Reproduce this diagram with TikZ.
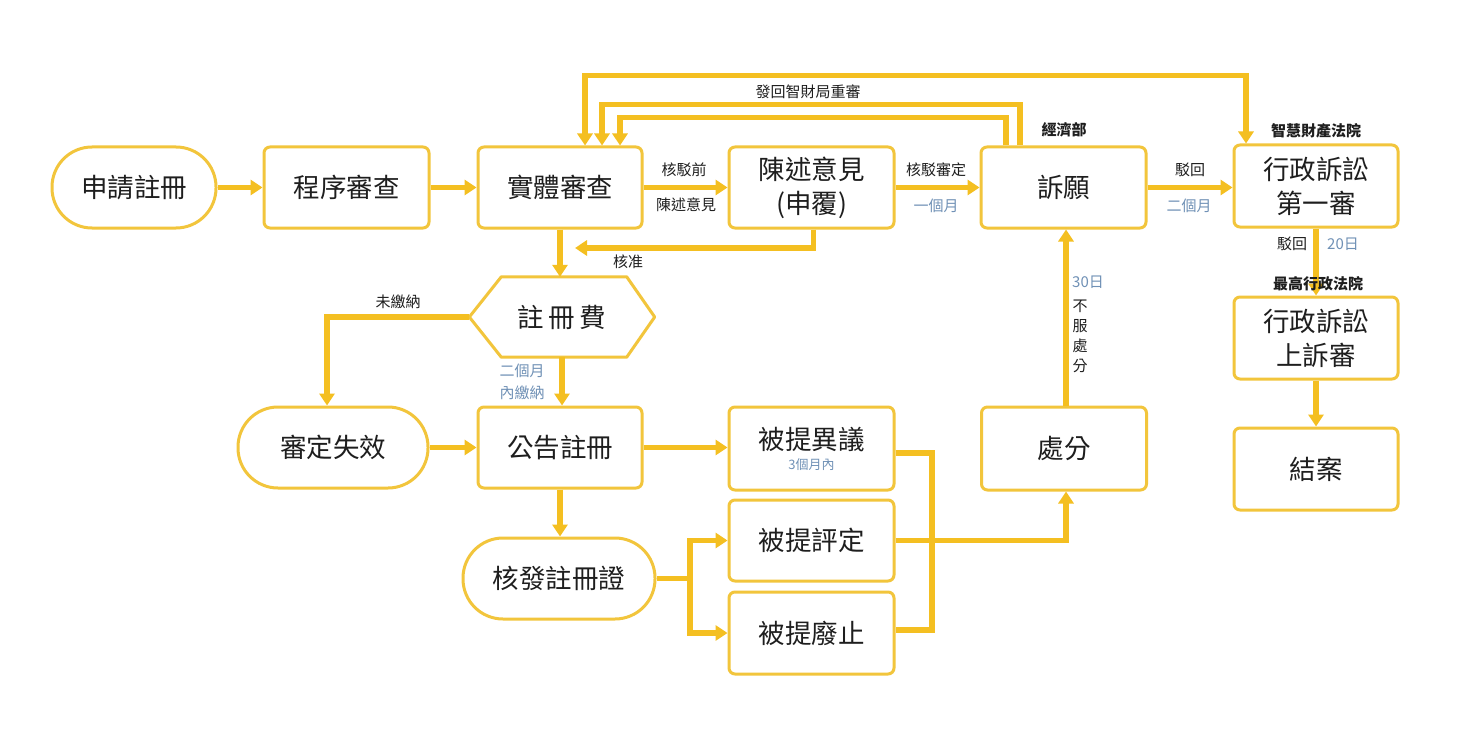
\documentclass[tikz,border=0pt]{standalone}
\usepackage{fontspec}
\setmainfont{Noto Sans CJK TC}
\usetikzlibrary{arrows.meta}
\definecolor{ylw}{RGB}{244,191,33}
\definecolor{ybd}{RGB}{242,197,60}
\definecolor{lblue}{RGB}{112,145,182}
\definecolor{txt}{RGB}{30,30,30}
\begin{document}
\begin{tikzpicture}[x=1pt,y=-1pt,
  box/.style={draw=ybd, line width=3pt, rounded corners=6pt, fill=white, minimum width=165pt, minimum height=81pt, inner sep=0pt, align=center, font=\fontsize{26.5}{34}\selectfont, text=txt},
  stadium/.style={box, rounded corners=40pt},
  conn/.style={draw=ylw, line width=5.5pt},
  tipA/.tip={Triangle[length=12pt,width=15pt]},
  arr/.style={conn, -tipA},
  lbl/.style={font=\fontsize{15}{19}\selectfont, text=txt, inner sep=0pt},
  blbl/.style={lbl, text=lblue},
  blb/.style={lbl, font=\fontsize{15}{19}\selectfont\bfseries}]
\useasboundingbox[fill=white] (0,0) rectangle (1469,754);

% nodes
\node[stadium, minimum width=164pt] (s1) at (134,187.5) {申請註冊};
\node[box] (s2) at (346.5,187.5) {程序審查};
\node[box, minimum width=164pt] (s3) at (560,187.5) {實體審查};
\node[box] (s4) at (811.5,187.5) {陳述意見\\(申覆)};
\node[box] (s5) at (1063.5,187.5) {訴願};
\node[box, minimum width=164pt, minimum height=82pt] (s6) at (1316,186) {行政訴訟\\第一審};
\node[box, minimum width=164pt, minimum height=82pt] (app) at (1316,338) {行政訴訟\\上訴審};
\node[box, minimum width=164pt, minimum height=82pt] (end) at (1316,469) {結案};

\node[minimum width=185pt, minimum height=80pt, inner sep=0pt, font=\fontsize{26.5}{34}\selectfont, text=txt] (fee) at (562,317) {註\,冊\,費};
\draw[draw=ybd, line width=3pt, line join=round] (fee.west) -- ([xshift=32pt]fee.north west) -- ([xshift=-28pt]fee.north east) -- (fee.east) -- ([xshift=-28pt]fee.south east) -- ([xshift=32pt]fee.south west) -- cycle;

\node[stadium, minimum width=190pt] (void) at (333,447.5) {審定失效};
\node[box, minimum width=164pt] (pub) at (560,447.5) {公告註冊};
\node[box, minimum height=83pt] (opp) at (811.5,448.5) {};
\node[lbl, font=\fontsize{26.5}{34}\selectfont] (oppt) at (811.5,440) {被提異議};
\node[blbl, font=\fontsize{13}{15}\selectfont] (q3) at (811.5,465) {3個月內};
\node[box, minimum height=83pt] (disp) at (1064,448.5) {處分};
\node[stadium, minimum width=192pt] (cert) at (559,578.5) {核發註冊證};
\node[box] (inv) at (811.5,540.5) {被提評定};
\node[box, minimum height=82pt] (rev) at (811.5,633) {被提廢止};

% main row
\draw[arr] (s1.east) -- (s2.west);
\draw[arr] (s2.east) -- (s3.west);
\draw[arr] (s3.east) -- (s4.west);
\draw[arr] (s4.east) -- (s5.west);
\draw[arr] (s5.east) -- (s5.east -| s6.west);

% approve loop
\coordinate (ok) at (575,248);
\draw[arr] ([xshift=2pt]s4.south) |- (ok);
\draw[arr] (s3.south) -- (s3.south |- fee.north);
\draw[arr] (fee.west) -| ([xshift=-6pt]void.north);
\draw[arr] (fee.south) -- (fee.south |- pub.north);
\draw[arr] (void.east) -- (pub.west);
\draw[arr] (pub.east) -- (pub.east -| opp.west);
\draw[arr] (pub.south) -- (pub.south |- cert.north);

% certificate branches
\coordinate (j1) at (690,578.5);
\draw[arr] (cert.east) -- (j1) |- (inv.west);
\draw[arr] (j1) |- (rev.west);

% right side merge
\coordinate (jr) at (932,542);
\draw[conn] ([yshift=-4.5pt]opp.east) -| (jr) |- ([yshift=3pt]rev.east);
\draw[arr] (inv.east) -| ([xshift=2pt]disp.south);
\draw[arr] ([xshift=2pt]disp.north) -- ([xshift=2pt]disp.north |- s5.south);

% top return lines
\draw[arr] ([xshift=-57.5pt]s5.north) -- ++(0,-28) -| ([xshift=60pt]s3.north);
\draw[arr] ([xshift=-43.5pt]s5.north) -- ++(0,-41) -| ([xshift=42pt]s3.north);
\draw[conn, tipA-tipA] ([xshift=-70pt]s6.north) -- ++(0,-68) -| ([xshift=25pt]s3.north);

% court chain
\draw[arr] (s6.south) -- (app.north);
\draw[arr] (app.south) -- (end.north);

% labels
\node[lbl] (l1) at (684,170) {核駁前};
\node[lbl] (l2) at (686,205) {陳述意見};
\node[lbl] (l3) at (936,170) {核駁審定};
\node[blbl] (l4) at (936,206) {一個月};
\node[lbl] (l5) at (1190,170) {駁回};
\node[blbl] (l6) at (1189,206) {二個月};
\node[lbl] (l7) at (628,262) {核准};
\node[lbl] (l8) at (398,302) {未繳納};
\node[blbl, align=center, font=\fontsize{15}{22}\selectfont] (l9) at (522,382) {二個月\\內繳納};
\node[blbl] (l10) at (1088,282) {30日};
\node[lbl, align=center, font=\fontsize{15}{20}\selectfont] (l11) at (1080,336) {不\\服\\處\\分};
\node[blb] (l12) at (1064,130) {經濟部};
\node[blb] (l13) at (1316,131) {智慧財產法院};
\node[lbl] (l14) at (1292,244) {駁回};
\node[blbl] (l15) at (1343,244) {20日};
\node[blb] (l16) at (1318,284) {最高行政法院};
\node[lbl] (l17) at (808,92) {發回智財局重審};
\end{tikzpicture}
\end{document}
